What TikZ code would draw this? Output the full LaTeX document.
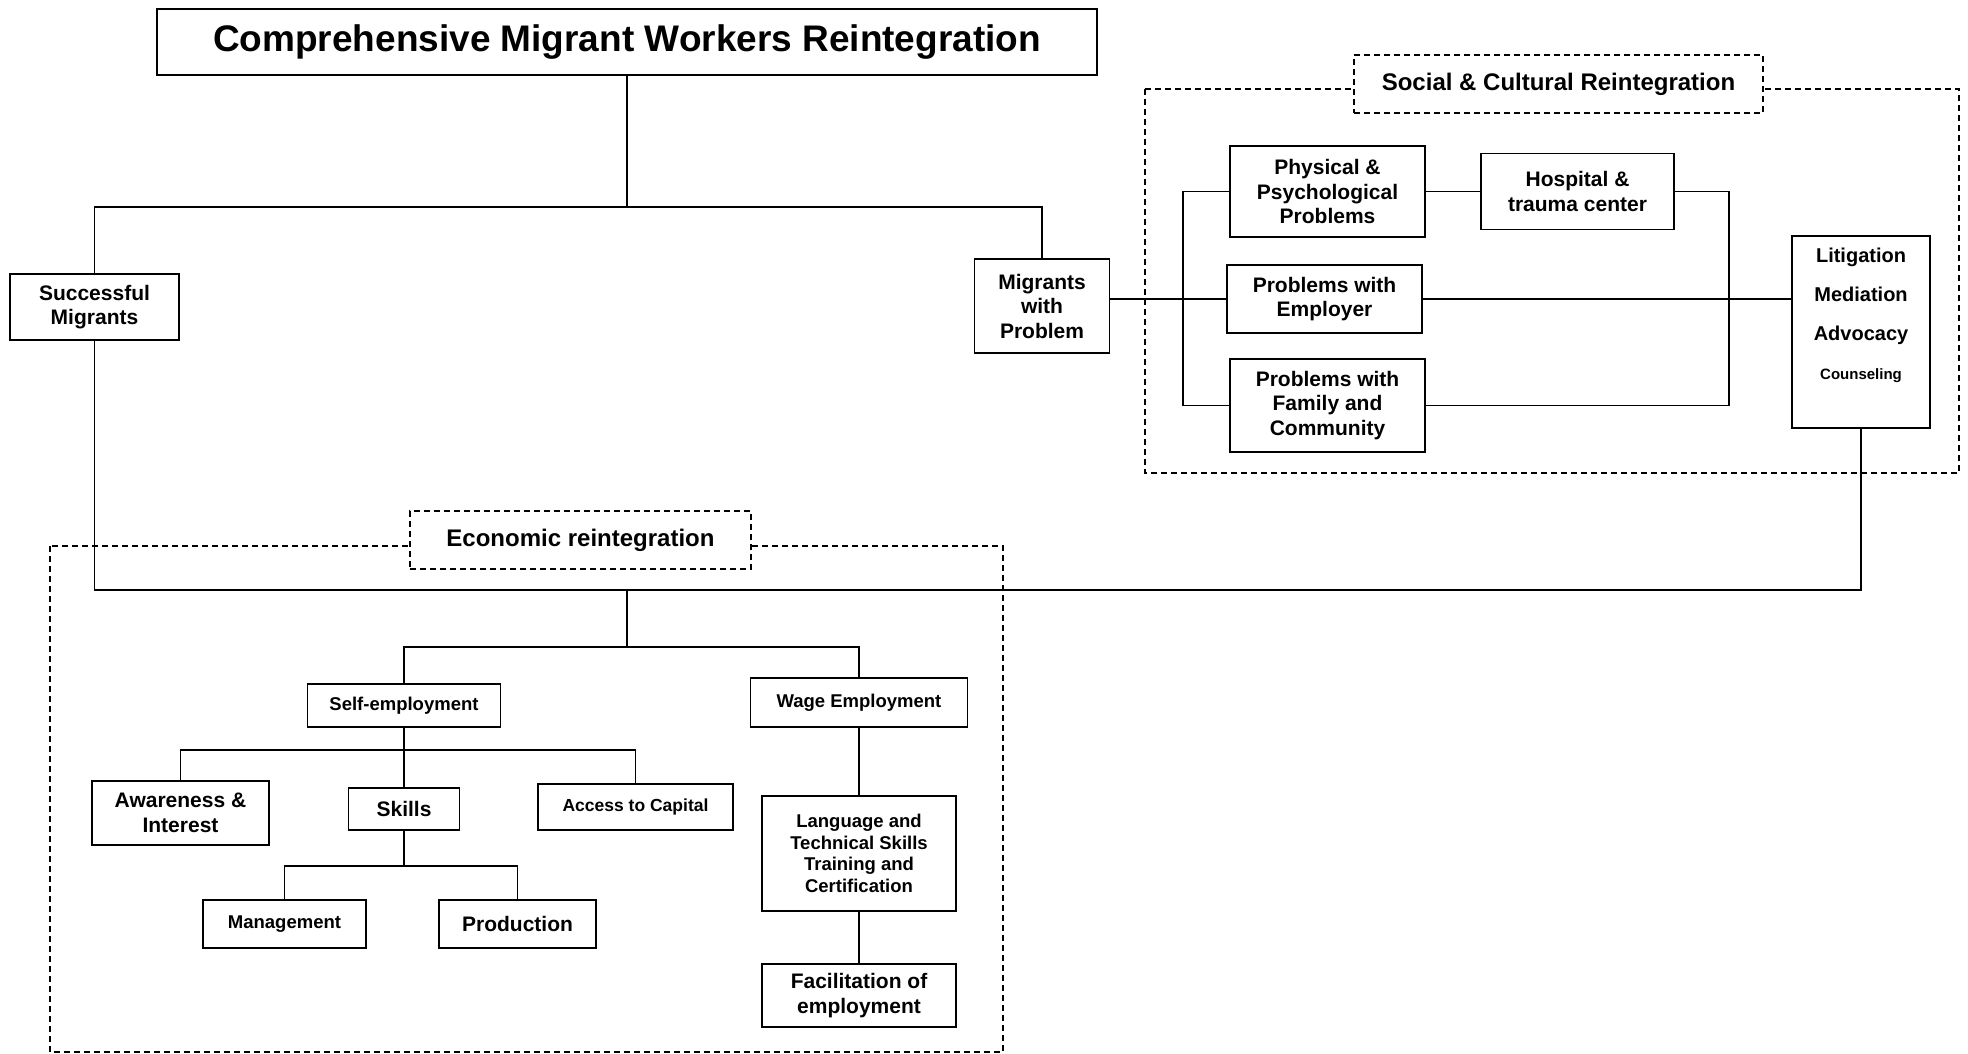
\documentclass[tikz,border=0pt]{standalone}
\usepackage{fontspec}
\setmainfont{Liberation Sans}

\begin{document}
\begin{tikzpicture}[x=1pt, y=-1pt,
  box/.style={draw, line width=1.8pt, align=center, inner sep=0pt, font=\bfseries\fontsize{21}{24.5}\selectfont},
  smalltext/.style={font=\bfseries\fontsize{18.5}{21.5}\selectfont},
  tag/.style={box, dash pattern=on 6pt off 4pt, line width=1.4pt, fill=white, font=\bfseries\fontsize{24}{28}\selectfont},
  dashframe/.style={dash pattern=on 6pt off 4pt, line width=1.4pt},
  link/.style={line width=1.8pt}]
 \useasboundingbox (0,0) rectangle (1968,1054);
 % top level
 \node[box, font=\bfseries\fontsize{37}{42}\selectfont, minimum width=940pt, minimum height=66pt] (title) at (627,42) {Comprehensive Migrant Workers Reintegration};
 \node[box, minimum width=169pt, minimum height=66pt] (succ) at (94.5,307) {Successful\\Migrants};
 \node[box, minimum width=135pt, minimum height=94pt] (mwp) at (1042,306) {Migrants\\with\\Problem};
 % social and cultural
 \draw[dashframe] (1145,89) rectangle (1959,473);
 \node[tag, minimum width=409pt, minimum height=58pt] (soctag) at (1558.5,84) {Social \& Cultural Reintegration};
 \node[box, minimum width=195pt, minimum height=91pt] (phys) at (1327.5,191.5) {Physical \&\\Psychological\\Problems};
 \node[box, minimum width=193pt, minimum height=76pt] (hosp) at (1577.5,191.5) {Hospital \&\\trauma center};
 \node[box, minimum width=195pt, minimum height=68pt] (employer) at (1324.5,299) {Problems with\\Employer};
 \node[box, minimum width=195pt, minimum height=93pt] (family) at (1327.5,405.5) {Problems with\\Family and\\Community};
 \node[box, font=\bfseries\fontsize{20}{24}\selectfont, minimum width=138pt, minimum height=192pt, text depth=37pt] (litig) at (1861,332) {Litigation\\[15pt]Mediation\\[15pt]Advocacy\\[15pt]{\fontsize{15}{18}\selectfont Counseling}};
 % economic
 \draw[dashframe] (50,546) rectangle (1003,1052);
 \node[tag, minimum width=341pt, minimum height=58pt] (ecotag) at (580.5,540) {Economic reintegration};
 \node[box, smalltext, minimum width=193pt, minimum height=43pt] (self) at (404,705.5) {Self-employment};
 \node[box, smalltext, minimum width=217pt, minimum height=49pt] (wage) at (859,702.5) {Wage Employment};
 \node[box, minimum width=177pt, minimum height=64pt] (aware) at (180.5,813) {Awareness \&\\Interest};
 \node[box, minimum width=111pt, minimum height=42pt] (skills) at (404,809) {Skills};
 \node[box, font=\bfseries\fontsize{17.5}{20}\selectfont, minimum width=195pt, minimum height=46pt] (capital) at (635.5,807) {Access to Capital};
 \node[box, smalltext, minimum width=163pt, minimum height=48pt] (mgmt) at (284.5,924) {Management};
 \node[box, minimum width=157pt, minimum height=48pt] (prod) at (517.5,924) {Production};
 \node[box, smalltext, minimum width=194pt, minimum height=115pt] (lang) at (859,853.5) {Language and\\Technical Skills\\Training and\\Certification};
 \node[box, minimum width=194pt, minimum height=63pt] (facil) at (859,995.5) {Facilitation of\\employment};
 % main branches
 \draw[link] (title.south) -- ++(0,131) coordinate (top);
 \draw[link] (succ.north) |- (top) -| (mwp.north);
 % problems
 \draw[link] (mwp.east |- employer.west) -- (employer.west);
 \draw[link] (phys.west) -- ++(-46,0) |- (family.west);
 \draw[link] (phys.east) -- (hosp.west);
 \draw[link] (hosp.east) -- ++(54,0) |- (family.east);
 \draw[link] (employer.east) -- (litig.west |- employer.east);
 % back to economic
 \coordinate (eco) at (top |- 0,590);
 \draw[link] (succ.south) |- (eco) -| (litig.south);
 \draw[link] (eco) -- ++(0,57) coordinate (eco2);
 \draw[link] (self.north) |- (eco2) -| (wage.north);
 \draw[link] (self.south) -- (skills.north);
 \path (self.south) ++(0,22) coordinate (selfj);
 \draw[link] (aware.north) |- (selfj) -| (capital.north);
 \draw[link] (skills.south) -- ++(0,35) coordinate (skillj);
 \draw[link] (mgmt.north) |- (skillj) -| (prod.north);
 \draw[link] (wage.south) -- (lang.north);
 \draw[link] (lang.south) -- (facil.north);
\end{tikzpicture}
\end{document}
